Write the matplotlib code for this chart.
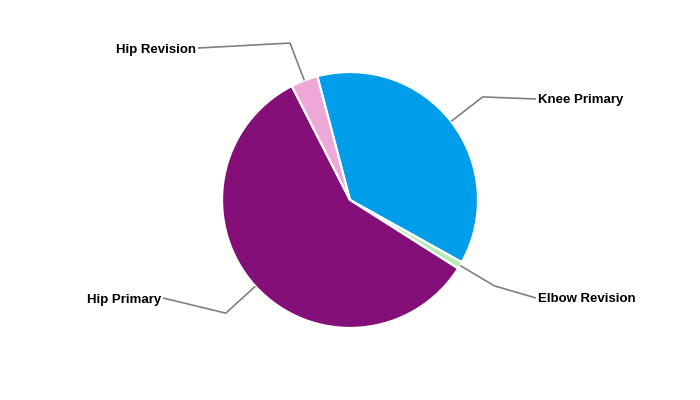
import numpy as np
import matplotlib
matplotlib.use("Agg")
import matplotlib.pyplot as plt

categories = ["Knee Primary", "Elbow Revision", "Hip Primary", "Hip Revision"]
values = [37.2, 0.9, 58.5, 3.4]
colors = ["#009EEA", "#B4EBB4", "#850F78", "#EEA8D8"]

# label layout (pixel coordinates, y measured from top)
label_pos = {
    "Knee Primary": (538, 99, "left"),
    "Elbow Revision": (538, 298, "left"),
    "Hip Primary": (161, 298, "right"),
    "Hip Revision": (196, 48, "right"),
}

W, H = 700, 400
fig = plt.figure(figsize=(7, 4), dpi=100)
ax = fig.add_axes([0, 0, 1, 1])

cx, cy, R = 350, H - 200, 128
wedges, _ = ax.pie(values, colors=colors, startangle=104.8, counterclock=False,
                   center=(cx, cy), radius=R, frame=True,
                   wedgeprops=dict(edgecolor="white", linewidth=1.6))
ax.set_xlim(0, W)
ax.set_ylim(0, H)
ax.axis("off")

for w, name in zip(wedges, categories):
    mid = np.deg2rad((w.theta1 + w.theta2) / 2)
    p0 = (cx + R * np.cos(mid), cy + R * np.sin(mid))
    p1 = (cx + 168 * np.cos(mid), cy + 168 * np.sin(mid))
    lx, ly, ha = label_pos[name]
    ly = H - ly
    ex = lx - 2 if ha == "left" else lx + 2
    ax.plot([p0[0], p1[0], ex], [p0[1], p1[1], ly], color="#808080", lw=1.2,
            solid_capstyle="butt")
    ax.text(lx, ly - 1.5, name, ha=ha, va="center", fontsize=9.55, fontweight="bold",
            family=["Liberation Sans", "DejaVu Sans"], color="black")

fig.savefig("out.png", dpi=100, facecolor="white")
